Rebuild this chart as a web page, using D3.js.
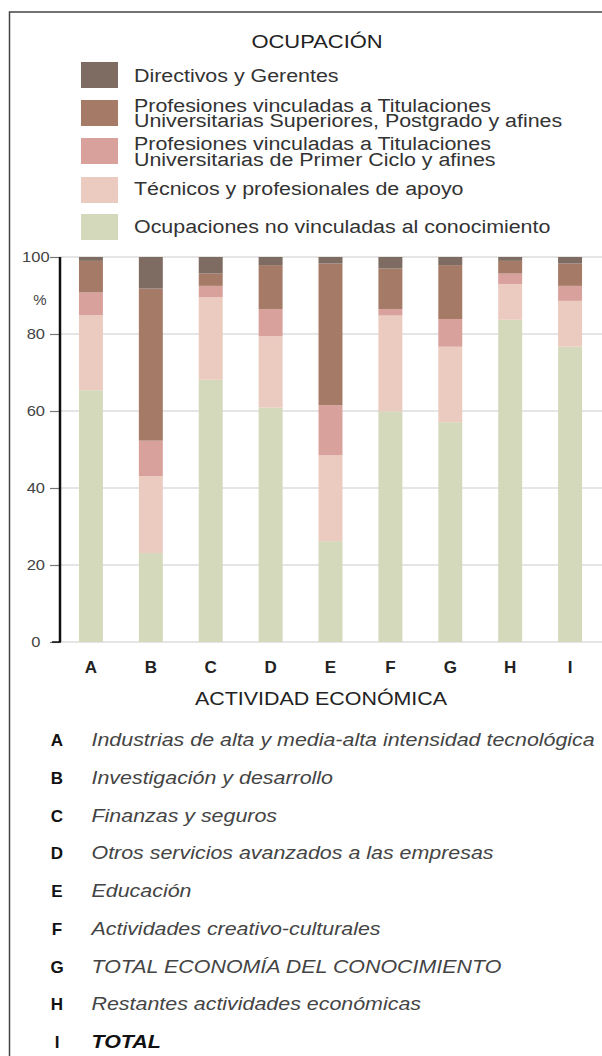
<!DOCTYPE html>
<html>
<head>
<meta charset="utf-8">
<script src="https://cdn.jsdelivr.net/npm/d3@7"></script>
<style>
  body { margin: 0; background: #fff; }
  svg { display: block; font-family: "Liberation Sans", Arial, sans-serif; }
</style>
</head>
<body>
<div id="chart"></div>
<script>
// actividades (eje X)
const letters = ['A', 'B', 'C', 'D', 'E', 'F', 'G', 'H', 'I'];
const actividades = [
    'Industrias de alta y media-alta intensidad tecnológica',
    'Investigación y desarrollo',
    'Finanzas y seguros',
    'Otros servicios avanzados a las empresas',
    'Educación',
    'Actividades creativo-culturales',
    'TOTAL ECONOMÍA DEL CONOCIMIENTO',
    'Restantes actividades económicas',
    'TOTAL'
];

// ocupaciones, de abajo a arriba en la pila (%)
const noVinculadas = [65.4, 23.1, 68.1, 60.9, 26.2, 59.9, 57.1, 83.7, 76.7];
const tecnicos     = [19.5, 20.0, 21.5, 18.5, 22.3, 24.9, 19.6,  9.3, 11.9];
const primerCiclo  = [ 5.9,  9.2,  2.9,  7.1, 13.0,  1.7,  7.2,  2.7,  3.9];
const superiores   = [ 8.2, 39.5,  3.2, 11.4, 36.8, 10.5, 14.0,  3.3,  5.8];
const directivos   = [ 1.0,  8.2,  4.3,  2.1,  1.7,  3.0,  2.1,  1.0,  1.7];

const yTicks = [0, 20, 40, 60, 80, 100];

const series = [
    { key: 'noVinculadas', values: noVinculadas, color: '#d5d9bb' },
    { key: 'tecnicos', values: tecnicos, color: '#ebcbbf' },
    { key: 'primerCiclo', values: primerCiclo, color: '#d9a19c' },
    { key: 'superiores', values: superiores, color: '#a57b68' },
    { key: 'directivos', values: directivos, color: '#7e6b62' }
];

// leyenda de arriba a abajo
const legendItems = [
    { key: 'directivos', lines: ['Directivos y Gerentes'] },
    { key: 'superiores', lines: ['Profesiones vinculadas a Titulaciones', 'Universitarias Superiores, Postgrado y afines'] },
    { key: 'primerCiclo', lines: ['Profesiones vinculadas a Titulaciones', 'Universitarias de Primer Ciclo y afines'] },
    { key: 'tecnicos', lines: ['Técnicos y profesionales de apoyo'] },
    { key: 'noVinculadas', lines: ['Ocupaciones no vinculadas al conocimiento'] }
];

const width = 602, height = 1056;
const colorOf = new Map(series.map(s => [s.key, s.color]));

// el original tiene el texto algo ensanchado
function stretch(sel, sx) {
    sel.each(function () {
        const t = d3.select(this);
        const tx = +t.attr('x') || 0, ty = +t.attr('y') || 0;
        t.attr('x', 0).attr('y', 0)
            .attr('transform', `translate(${tx},${ty}) scale(${sx},1)`);
    });
}

const svg = d3.select('#chart').append('svg')
    .attr('width', width)
    .attr('height', height);

svg.append('rect').attr('width', width).attr('height', height).attr('fill', '#fff');

// marco
svg.append('path')
    .attr('d', `M9.5,${height} V12 H${width}`)
    .attr('fill', 'none')
    .attr('stroke', '#444')
    .attr('stroke-width', 1.5);

// leyenda
svg.append('text')
    .attr('x', 317).attr('y', 48)
    .attr('text-anchor', 'middle')
    .attr('font-size', 18)
    .attr('fill', '#222')
    .text('OCUPACIÓN')
    .call(stretch, 1.22);

const swatchTop = [62, 100, 138, 177, 214];
const lineBase = [[82], [112, 127], [150, 166], [195], [233]];
const legend = svg.append('g');
legendItems.forEach((item, i) => {
    legend.append('rect')
        .attr('x', 81).attr('y', swatchTop[i])
        .attr('width', 37).attr('height', 26)
        .attr('fill', colorOf.get(item.key));
    item.lines.forEach((line, j) => {
        legend.append('text')
            .attr('x', 134).attr('y', lineBase[i][j])
            .attr('font-size', 18)
            .attr('fill', '#333')
            .text(line)
            .call(stretch, 1.19);
    });
});

// grafico
const x = d3.scaleBand()
    .domain(letters)
    .range([61, 600])
    .paddingInner(0.6)
    .paddingOuter(0.3);

const y = d3.scaleLinear()
    .domain([0, 100])
    .range([642, 257]);

const rows = letters.map((l, i) => {
    const r = { letter: l };
    series.forEach(s => { r[s.key] = s.values[i]; });
    return r;
});
const stacked = d3.stack().keys(series.map(s => s.key))(rows);

// rejilla
svg.append('g')
    .selectAll('line')
    .data(yTicks)
    .join('line')
    .attr('x1', 60).attr('x2', width)
    .attr('y1', d => y(d)).attr('y2', d => y(d))
    .attr('stroke', '#dcdcdc')
    .attr('stroke-width', 1.5);

svg.append('g')
    .selectAll('g')
    .data(stacked)
    .join('g')
    .attr('fill', d => colorOf.get(d.key))
    .selectAll('rect')
    .data(d => d)
    .join('rect')
    .attr('x', d => x(d.data.letter))
    .attr('width', x.bandwidth())
    .attr('y', d => y(d[1]))
    .attr('height', d => y(d[0]) - y(d[1]));

// eje Y
const yAxis = svg.append('g')
    .attr('transform', 'translate(60,0)')
    .call(d3.axisLeft(y).tickValues(yTicks).tickSize(10).tickPadding(0));
yAxis.select('.domain').remove();
yAxis.selectAll('.tick line').attr('stroke', '#777').attr('stroke-width', 1.2);
yAxis.selectAll('.tick text')
    .attr('x', -22)
    .attr('text-anchor', 'middle')
    .attr('font-size', 15)
    .attr('font-family', '"Liberation Sans", Arial, sans-serif')
    .attr('fill', '#444')
    .attr('transform', 'scale(1.1,1)');
svg.append('line')
    .attr('x1', 60).attr('x2', 60)
    .attr('y1', y(100)).attr('y2', y(0))
    .attr('stroke', '#111')
    .attr('stroke-width', 2.5);
svg.append('line')
    .attr('x1', 52).attr('x2', 61)
    .attr('y1', y(0)).attr('y2', y(0))
    .attr('stroke', '#111')
    .attr('stroke-width', 1.5);
svg.append('text')
    .attr('x', 40).attr('y', 305)
    .attr('text-anchor', 'middle')
    .attr('font-size', 15)
    .attr('fill', '#444')
    .text('%');

// eje X
svg.append('g')
    .selectAll('text')
    .data(letters)
    .join('text')
    .attr('x', d => x(d) + x.bandwidth() / 2)
    .attr('y', 673)
    .attr('text-anchor', 'middle')
    .attr('font-size', 17)
    .attr('font-weight', 'bold')
    .attr('fill', '#222')
    .text(d => d);

svg.append('text')
    .attr('x', 321).attr('y', 705)
    .attr('text-anchor', 'middle')
    .attr('font-size', 18)
    .attr('fill', '#222')
    .text('ACTIVIDAD ECONÓMICA')
    .call(stretch, 1.19);

// lista de actividades
const list = svg.append('g')
    .selectAll('g')
    .data(letters)
    .join('g')
    .attr('transform', (d, i) => `translate(0,${746 + i * 37.75})`);
list.append('text')
    .attr('x', 57)
    .attr('text-anchor', 'middle')
    .attr('font-size', 17)
    .attr('font-weight', 'bold')
    .attr('fill', '#111')
    .text(d => d);
list.append('text')
    .attr('x', 91.5)
    .attr('font-size', 18)
    .attr('font-style', 'italic')
    .attr('font-weight', (d, i) => i === letters.length - 1 ? 'bold' : 'normal')
    .attr('fill', (d, i) => i === letters.length - 1 ? '#111' : '#444')
    .text((d, i) => actividades[i])
    .call(stretch, 1.19);
</script>
</body>
</html>
